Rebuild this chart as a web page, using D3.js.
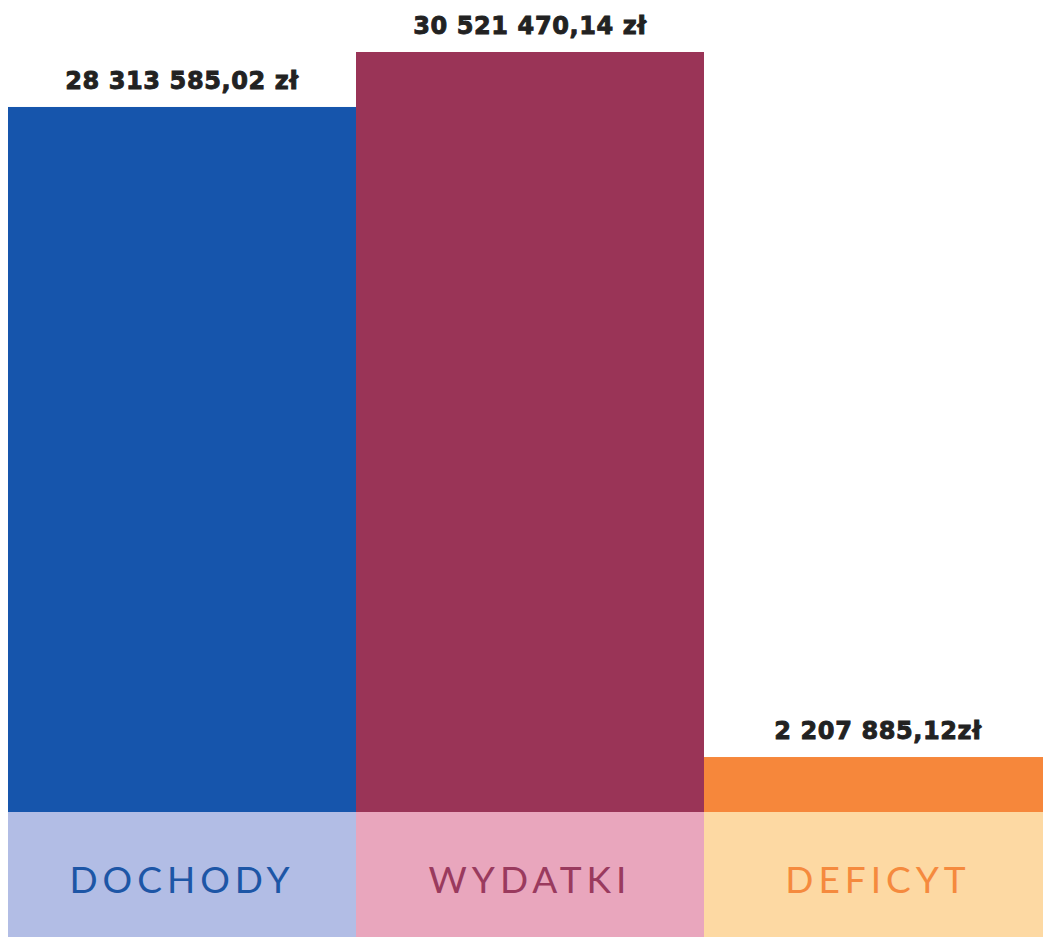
<!doctype html>
<html lang="pl">
<head>
    <meta charset="UTF-8" />
    <script src="https://d3js.org/d3.v7.min.js"></script>
    <title>Budżet</title>
    <style>
        body { margin: 0; background: #fff; }
    </style>
</head>
<body>
    <div id="chart"></div>
    <script>
        // Data
        const categories = ["DOCHODY", "WYDATKI", "DEFICYT"]
        const values = [28313585.02, 30521470.14, 2207885.12]
        const suffixes = [" zł", " zł", "zł"]
        const barColors = ["#1655ac", "#9a3457", "#f6873b"]
        const bandColors = ["#b2bde5", "#e9a6bd", "#fdd9a3"]
        const textColors = ["#1d56a6", "#9a3a5e", "#f58a3e"]

        const W = 1043, H = 937
        const baseY = 812

        const svg = d3.select("#chart").append("svg")
            .attr("width", W)
            .attr("height", H)

        const x = d3.scaleBand().domain(categories).range([8, 1052]).padding(0)
        const y = d3.scaleLinear().domain([0, d3.max(values)]).range([baseY, 52])

        const pl = d3.formatLocale({ decimal: ",", thousands: " ", grouping: [3], currency: ["", " zł"] })
        const fmt = pl.format(",.2f")

        const data = categories.map((c, i) => ({ c, v: values[i], i }))

        // bars
        svg.selectAll(".bar")
            .data(data)
            .join("rect")
            .attr("class", "bar")
            .attr("x", d => x(d.c))
            .attr("y", d => y(d.v))
            .attr("width", x.bandwidth())
            .attr("height", d => baseY - y(d.v))
            .attr("fill", d => barColors[d.i])

        // bottom bands
        svg.selectAll(".band")
            .data(data)
            .join("rect")
            .attr("class", "band")
            .attr("x", d => x(d.c))
            .attr("y", baseY)
            .attr("width", x.bandwidth())
            .attr("height", H - baseY)
            .attr("fill", d => bandColors[d.i])

        // value labels
        svg.selectAll(".value")
            .data(data)
            .join("text")
            .attr("class", "value")
            .attr("x", d => x(d.c) + x.bandwidth() / 2)
            .attr("y", d => y(d.v) - 18)
            .attr("text-anchor", "middle")
            .attr("font-family", "DejaVu Sans")
            .attr("font-weight", "bold")
            .attr("font-size", "24px")
            .attr("letter-spacing", "0.6px")
            .attr("fill", "#222")
            .attr("stroke", "#222")
            .attr("stroke-width", 0.9)
            .text(d => fmt(d.v) + suffixes[d.i])

        // category labels
        svg.selectAll(".cat")
            .data(data)
            .join("text")
            .attr("class", "cat")
            .attr("x", d => x(d.c) + x.bandwidth() / 2)
            .attr("y", 893)
            .attr("text-anchor", "middle")
            .attr("font-family", "Lato")
            .attr("font-size", "37px")
            .attr("letter-spacing", "5px")
            .attr("fill", d => textColors[d.i])
            .text(d => d.c)
    </script>
</body>
</html>
